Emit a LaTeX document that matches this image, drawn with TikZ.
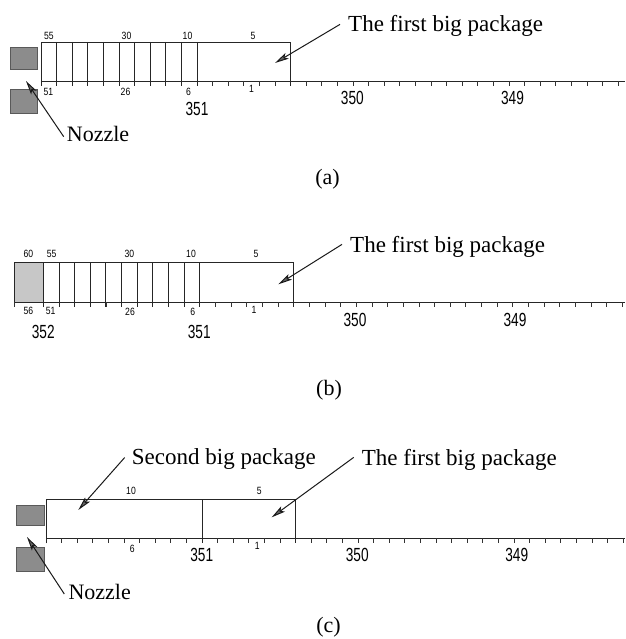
\documentclass[tikz,border=0pt]{standalone}
\usepackage{fontspec}
\setmainfont{Liberation Serif}
\newfontfamily\numfont{Liberation Sans}
\usetikzlibrary{arrows.meta}
\begin{document}
\begin{tikzpicture}[x=1pt,y=-1pt,
  ln/.style={line width=0.9pt,draw=black!85},
  tk/.style={line width=0.8pt,draw=black!80},
  ptr/.style={line width=1pt,draw=black!90,-{Stealth[length=14pt,width=6.5pt,inset=3pt,fill=black!60]}},
  sn/.style={inner sep=0pt,font=\numfont\fontsize{10.5}{10.5}\selectfont,xscale=0.82},
  bn/.style={inner sep=0pt,font=\numfont\fontsize{19}{19}\selectfont,xscale=0.72},
  ann/.style={inner sep=0pt,anchor=base west,font=\fontsize{23}{27}\selectfont},
  nozt/.style={inner sep=0pt,anchor=base west,font=\fontsize{22}{26}\selectfont},
  panlab/.style={inner sep=0pt,anchor=base,font=\fontsize{22}{26}\selectfont},
  nozbox/.style={fill=black!45,draw=black!65,line width=0.6pt},
]
\useasboundingbox (0,0) rectangle (625,639);

% ================= (a) =================
\draw[nozbox] (10.7,47.3) rectangle (37.7,69.3);
\draw[nozbox] (10.7,89.3) rectangle (37.7,113.3);
\draw[ln] (41,81) -- (625,81);
\foreach \i in {0,...,37} \draw[tk] ({41+15.6*\i},81) -- ++(0,5);
\draw[ln] (41,86) -- (41,42) -- (290.6,42) -- (290.6,86);
\foreach \i in {1,...,10} \draw[ln] ({41+15.6*\i},42) -- ({41+15.6*\i},86);
\node[sn] (a55) at (48.8,35.5) {55};
\node[sn] (a30) at (126.5,35.5) {30};
\node[sn] (a10) at (187.5,35.5) {10};
\node[sn] (a5) at (253,35.5) {5};
\node[sn] (a51) at (48.5,91.5) {51};
\node[sn] (a26) at (125.5,92) {26};
\node[sn] (a6) at (188.5,91.5) {6};
\node[sn] (a1) at (251.5,88.5) {1};
\node[bn] (a351) at (197,108.7) {351};
\node[bn] (a350) at (352.3,97.8) {350};
\node[bn] (a349) at (512.5,97.8) {349};
\node[ann] (txtA) at (348,32) {The first big package};
\node[nozt] (nozA) at (66.7,141.7) {Nozzle};
\coordinate (tipA) at (275,63);
\coordinate (tipNA) at (26,81);
\draw[ptr] ([xshift=-8pt,yshift=2pt]txtA.west) -- (tipA);
\draw[ptr] ([xshift=-3pt,yshift=-2.5pt]nozA.west) -- (tipNA);
\node[panlab] (labA) at (327.5,184.5) {(a)};

% ================= (b) =================
\draw[ln,fill=black!22] (14.3,302) rectangle (43.3,262);
\draw[ln] (14.3,302) -- (625,302);
\draw[tk] (14.3,302) -- ++(0,5);
\foreach \i in {0,...,37} \draw[tk] ({43.3+15.65*\i},302) -- ++(0,5);
\draw[ln] (43.3,307) -- (43.3,262) -- (293.7,262) -- (293.7,307);
\foreach \i in {1,...,10} \draw[ln] ({43.3+15.65*\i},262) -- ({43.3+15.65*\i},307);
\node[sn] (b60) at (28.3,254.3) {60};
\node[sn] (b55) at (51.7,254.3) {55};
\node[sn] (b30) at (129.3,254.3) {30};
\node[sn] (b10) at (191,254.3) {10};
\node[sn] (b5) at (256,254.3) {5};
\node[sn] (b56) at (28.3,311.3) {56};
\node[sn] (b51) at (50.7,311.3) {51};
\node[sn] (b26) at (130,311.5) {26};
\node[sn] (b6) at (192.7,311.5) {6};
\node[sn] (b1) at (254,310) {1};
\node[bn] (b352) at (43.3,332) {352};
\node[bn] (b351) at (199.3,332) {351};
\node[bn] (b350) at (355,320) {350};
\node[bn] (b349) at (515,320) {349};
\node[ann] (txtB) at (350,252) {The first big package};
\coordinate (tipB) at (278.3,284.3);
\draw[ptr] ([xshift=-8pt,yshift=2pt]txtB.west) -- (tipB);
\node[panlab] (labB) at (329,395.5) {(b)};

% ================= (c) =================
\draw[nozbox] (16,505) rectangle (44.3,525);
\draw[nozbox] (16,547.3) rectangle (44.3,571);
\draw[ln] (46,538.3) -- (625,538.3);
\foreach \i in {0,...,37} \draw[tk] ({46+15.6*\i},538.3) -- ++(0,5);
\draw[ln] (46,543.3) -- (46,499) -- (295.6,499) -- (295.6,543.3);
\draw[ln] (202,499) -- (202,543.3);
\node[sn] (c10) at (131,491) {10};
\node[sn] (c5) at (259.3,491) {5};
\node[sn] (c6) at (132.3,549.3) {6};
\node[sn] (c1) at (257.3,546.3) {1};
\node[bn] (c351) at (201.7,555) {351};
\node[bn] (c350) at (357.3,555) {350};
\node[bn] (c349) at (516.7,555) {349};
\node[ann] (txtC2) at (131.7,464) {Second big package};
\node[ann] (txtC1) at (361.7,465) {The first big package};
\node[nozt] (nozC) at (68.3,599.5) {Nozzle};
\coordinate (tipC2) at (78.3,510);
\coordinate (tipC1) at (271.7,517.3);
\coordinate (tipNC) at (27,537);
\draw[ptr] ([xshift=-7pt,yshift=1pt]txtC2.west) -- (tipC2);
\draw[ptr] ([xshift=-8pt,yshift=2pt]txtC1.west) -- (tipC1);
\draw[ptr] ([xshift=-4pt,yshift=-2pt]nozC.west) -- (tipNC);
\node[panlab] (labC) at (328.5,632.5) {(c)};
\end{tikzpicture}
\end{document}
